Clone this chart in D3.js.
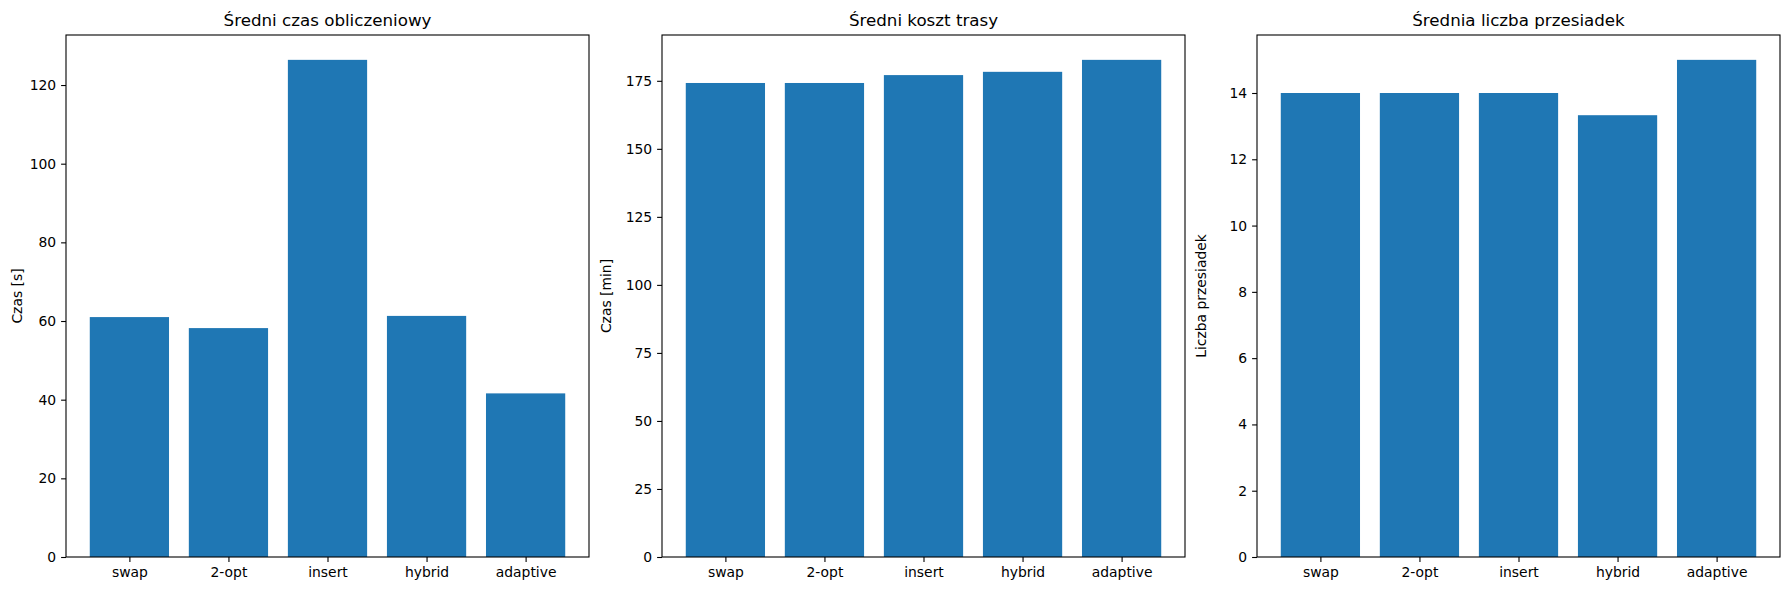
<!DOCTYPE html>
<html><head><meta charset="utf-8">
<script src="https://cdn.jsdelivr.net/npm/d3@7"></script>
<style>body{margin:0;background:#fff}</style>
</head><body>
<script>
// categories and values
var methods = ["swap", "2-opt", "insert", "hybrid", "adaptive"];
var timeValues = [61.0, 58.2, 126.4, 61.3, 41.6];
var costValues = [174.2, 174.2, 177.1, 178.3, 182.7];
var transferValues = [14, 14, 14, 13.33, 15];
var titles = ["Średni czas obliczeniowy", "Średni koszt trasy", "Średnia liczba przesiadek"];
var yLabels = ["Czas [s]", "Czas [min]", "Liczba przesiadek"];
var yTicks = [d3.range(0, 121, 20), d3.range(0, 176, 25), d3.range(0, 15, 2)];

var svgWidth = 1790, svgHeight = 590;
var panelLefts = [66, 662, 1257];
var panelWidth = 523;
var plotTop = 35, plotBottom = 557;

var svg = d3.select("body").append("svg")
    .attr("width", svgWidth).attr("height", svgHeight)
    .style("font-family", "DejaVu Sans");

[timeValues, costValues, transferValues].forEach(function(values, i) {
    var g = svg.append("g").attr("transform", `translate(${panelLefts[i]},0)`);

    // matplotlib-like x limits: bars width 0.8, 5% margins
    var span = (methods.length - 1) + 0.8;
    var x = d3.scaleLinear()
        .domain([-0.4 - span * 0.05, methods.length - 1 + 0.4 + span * 0.05])
        .range([0, panelWidth]);
    var y = d3.scaleLinear()
        .domain([0, d3.max(values) * 1.05])
        .range([plotBottom, plotTop]);

    g.selectAll("rect").data(values).enter().append("rect")
        .attr("x", (d, j) => x(j - 0.4))
        .attr("width", x(0.8) - x(0))
        .attr("y", d => y(d))
        .attr("height", d => y(0) - y(d))
        .attr("fill", "#1f77b4");

    var leftAxis = d3.axisLeft(y).tickValues(yTicks[i]).tickSize(4.9).tickPadding(4.9);
    var bottomAxis = d3.axisBottom(x).tickValues(d3.range(methods.length))
        .tickFormat(j => methods[j]).tickSize(4.9).tickPadding(4.9);

    var ga = g.append("g").call(leftAxis);
    var gb = g.append("g").attr("transform", `translate(0,${plotBottom})`).call(bottomAxis);
    [ga, gb].forEach(a => {
        a.select(".domain").remove();
        a.selectAll("text").attr("font-size", "13.9px").attr("fill", "#000").style("font-family", "DejaVu Sans");
        a.selectAll("line").attr("stroke", "#000").attr("stroke-width", 1.1);
    });

    g.append("rect").attr("x", 0).attr("y", plotTop)
        .attr("width", panelWidth).attr("height", plotBottom - plotTop)
        .attr("fill", "none").attr("stroke", "#000").attr("stroke-width", 1.1);

    g.append("text")
        .attr("x", panelWidth / 2).attr("y", plotTop - 9)
        .attr("text-anchor", "middle").attr("font-size", "16.7px")
        .text(titles[i]);

    var labelX = i === 0 ? -44 : -51;
    g.append("text")
        .attr("transform", `translate(${labelX},${(plotTop + plotBottom) / 2}) rotate(-90)`)
        .attr("text-anchor", "middle").attr("font-size", "13.9px")
        .text(yLabels[i]);
});
</script>
</body></html>
